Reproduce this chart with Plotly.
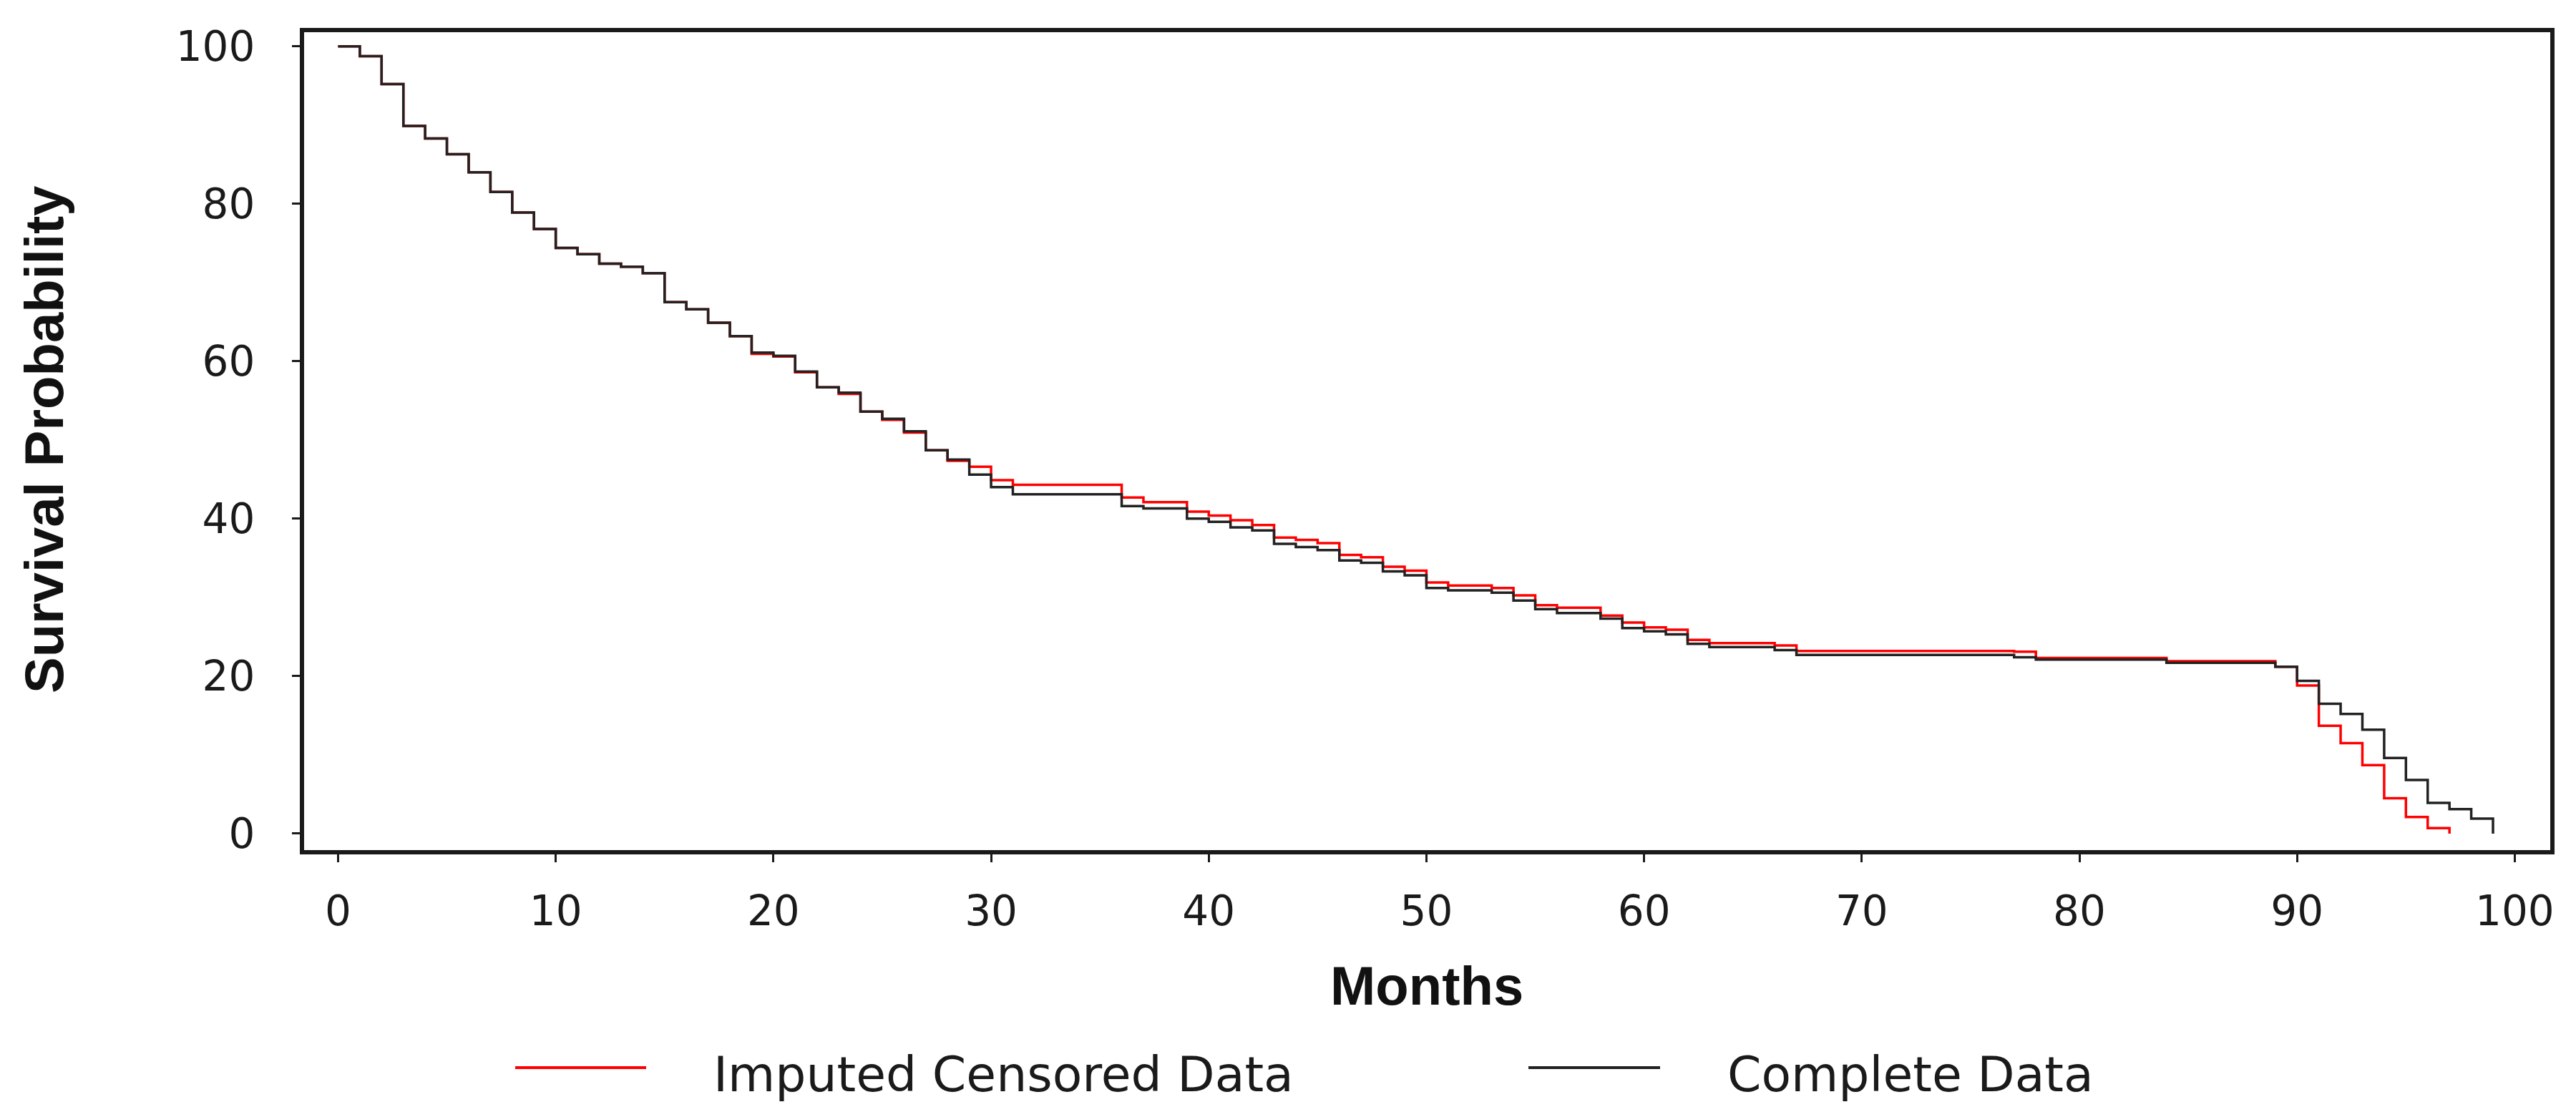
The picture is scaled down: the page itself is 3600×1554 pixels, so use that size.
import plotly.graph_objects as go

# ---- data ----
complete_months = [0, 1, 2, 3, 4, 5, 6, 7, 8, 9, 10, 11, 12, 13, 14, 15, 16, 17, 18, 19,
                   20, 21, 22, 23, 24, 25, 26, 27, 28, 29, 30, 31, 36, 37, 39, 40, 41, 42,
                   43, 44, 45, 46, 47, 48, 49, 50, 51, 53, 54, 55, 56, 58, 59, 60, 61, 62,
                   63, 66, 67, 77, 78, 84, 89, 90, 91, 92, 93, 94, 95, 96, 97, 98, 99]
complete_surv = [100, 98.75, 95.2, 89.9, 88.3, 86.3, 84.0, 81.5, 78.9, 76.8,
                 74.4, 73.6, 72.4, 72.0, 71.2, 67.5, 66.6, 64.9, 63.2, 61.1,
                 60.7, 58.7, 56.7, 56.0, 53.6, 52.7, 51.1, 48.7, 47.5, 45.6,
                 44.0, 43.1, 41.6, 41.3, 40.0, 39.6, 38.9, 38.5, 36.8, 36.4,
                 36.0, 34.7, 34.4, 33.3, 32.8, 31.2, 30.9, 30.6, 29.6, 28.5,
                 28.0, 27.3, 26.1, 25.7, 25.3, 24.1, 23.7, 23.3, 22.7, 22.4,
                 22.1, 21.7, 21.2, 19.4, 16.5, 15.2, 13.2, 9.6, 6.8, 3.9,
                 3.1, 1.9, 0]

imputed_months = [0, 1, 2, 3, 4, 5, 6, 7, 8, 9, 10, 11, 12, 13, 14, 15, 16, 17, 18, 19,
                  20, 21, 22, 23, 24, 25, 26, 27, 28, 29, 30, 31, 36, 37, 39, 40, 41, 42,
                  43, 44, 45, 46, 47, 48, 49, 50, 51, 53, 54, 55, 56, 58, 59, 60, 61, 62,
                  63, 66, 67, 77, 78, 84, 89, 90, 91, 92, 93, 94, 95, 96, 97]
imputed_surv = [100, 98.75, 95.2, 89.9, 88.3, 86.3, 84.0, 81.5, 78.9, 76.8,
                74.4, 73.6, 72.4, 72.0, 71.2, 67.5, 66.6, 64.9, 63.2, 60.95,
                60.6, 58.6, 56.7, 55.85, 53.6, 52.55, 50.95, 48.7, 47.35, 46.6,
                44.9, 44.3, 42.7, 42.1, 40.9, 40.4, 39.8, 39.2, 37.6, 37.3,
                36.9, 35.4, 35.1, 33.9, 33.4, 31.9, 31.5, 31.2, 30.25, 29.0,
                28.7, 27.7, 26.8, 26.2, 25.9, 24.6, 24.2, 23.9, 23.2, 23.1,
                22.3, 21.9, 21.2, 18.8, 13.7, 11.5, 8.7, 4.5, 2.1, 0.7, 0]

series_names = ["Imputed Censored Data", "Complete Data"]
series_colors = ["#ff0000", "#222222"]

x_ticks = [0, 10, 20, 30, 40, 50, 60, 70, 80, 90, 100]
y_ticks = [0, 20, 40, 60, 80, 100]
x_title = "Months"
y_title = "Survival Probability"

# ---- figure ----
W, H = 3600, 1554
L, R, T, B = 417, 44, 37, 374
pw, ph = W - L - R, H - T - B


def px_x(p):
    return (p - L) / pw


def px_y(p):
    return (H - B - p) / ph


fig = go.Figure()
fig.add_trace(go.Scatter(x=imputed_months, y=imputed_surv, mode="lines",
                         line=dict(color=series_colors[0], width=3.5, shape="hv"),
                         name=series_names[0], showlegend=False))
fig.add_trace(go.Scatter(x=complete_months, y=complete_surv, mode="lines",
                         line=dict(color=series_colors[1], width=3.5, shape="hv"),
                         name=series_names[1], showlegend=False))

tickfont = dict(family="DejaVu Sans", size=58, color="#1a1a1a")
axis_common = dict(showline=True, linewidth=6, linecolor="#1a1a1a", mirror=True,
                   ticks="outside", ticklen=11, tickwidth=3, tickcolor="#1a1a1a",
                   showgrid=False, zeroline=False, tickfont=tickfont)

fig.update_xaxes(range=[-1.56, 101.63], tickvals=x_ticks, ticklabelstandoff=18, **axis_common)
fig.update_yaxes(range=[-2.1, 101.8], tickvals=y_ticks, ticklabelstandoff=40, **axis_common)

annotations = [
    dict(text="<b>" + x_title + "</b>", x=px_x(1986), y=px_y(1369), xref="paper", yref="paper",
         xanchor="center", yanchor="middle", showarrow=False,
         font=dict(family="Liberation Sans", size=76, color="#111111")),
    dict(text="<b>" + y_title + "</b>", x=px_x(53), y=px_y(606), xref="paper", yref="paper",
         xanchor="center", yanchor="middle", showarrow=False, textangle=-90,
         font=dict(family="Liberation Sans", size=76, color="#111111")),
    dict(text=series_names[0], x=px_x(987), y=px_y(1493), xref="paper", yref="paper",
         xanchor="left", yanchor="middle", showarrow=False,
         font=dict(family="DejaVu Sans", size=68, color="#1a1a1a")),
    dict(text=series_names[1], x=px_x(2404), y=px_y(1493), xref="paper", yref="paper",
         xanchor="left", yanchor="middle", showarrow=False,
         font=dict(family="DejaVu Sans", size=68, color="#1a1a1a")),
]

shapes = [
    dict(type="line", xref="paper", yref="paper", x0=px_x(712), x1=px_x(895),
         y0=px_y(1484), y1=px_y(1484), line=dict(color=series_colors[0], width=4)),
    dict(type="line", xref="paper", yref="paper", x0=px_x(2128), x1=px_x(2312),
         y0=px_y(1484), y1=px_y(1484), line=dict(color=series_colors[1], width=4)),
]

fig.update_layout(width=W, height=H, margin=dict(l=L, r=R, t=T, b=B),
                  paper_bgcolor="white", plot_bgcolor="white",
                  annotations=annotations, shapes=shapes, showlegend=False)

fig.write_html("out.html")
